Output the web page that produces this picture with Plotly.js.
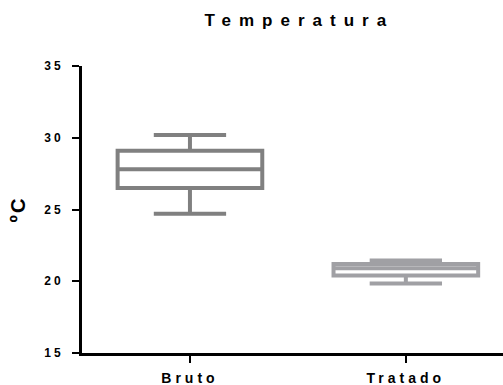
<!DOCTYPE html>
<html>
<head>
<meta charset="utf-8">
<script src="https://cdn.plot.ly/plotly-3.0.1.min.js"></script>
<style>
html,body{margin:0;padding:0;background:#fff;}
#chart{width:503px;height:385px;}
.xtick text{letter-spacing:4px;}
.ytick text{letter-spacing:3px;}
.gtitle{letter-spacing:8px;}
.ytitle{letter-spacing:2px;}
.xtick text,.ytick text,.gtitle,.ytitle{font-weight:700 !important;}
</style>
</head>
<body>
<div id="chart"></div>
<script>
const categories = ['Bruto', 'Tratado'];
const lowerWhisker = [24.7, 19.85];
const q1Values = [26.5, 20.4];
const medianValues = [27.8, 20.9];
const q3Values = [29.1, 21.2];
const upperWhisker = [30.2, 21.45];
const boxColors = ['#808080', '#a0a0a4'];
const yTicks = [15, 20, 25, 30, 35];

const font = {family: 'Liberation Sans, Arial, sans-serif', color: '#000', weight: 'bold'};

const traces = categories.map((c, i) => ({
  type: 'box',
  x: [c],
  q1: [q1Values[i]],
  median: [medianValues[i]],
  q3: [q3Values[i]],
  lowerfence: [lowerWhisker[i]],
  upperfence: [upperWhisker[i]],
  boxpoints: false,
  width: 0.67,
  whiskerwidth: 0.5,
  fillcolor: '#ffffff',
  line: {color: boxColors[i], width: 4},
  showlegend: false,
  hoverinfo: 'skip'
}));

const layout = {
  width: 503,
  height: 385,
  margin: {l: 82, r: 0, t: 66, b: 32},
  paper_bgcolor: '#fff',
  plot_bgcolor: '#fff',
  boxmode: 'overlay',
  title: {
    text: 'Temperatura',
    font: Object.assign({}, font, {size: 17}),
    x: 0.595, xanchor: 'center', y: 0.948, yanchor: 'middle'
  },
  xaxis: {
    type: 'category',
    range: [-0.5, 1.45],
    showgrid: false, zeroline: false,
    showline: true, linecolor: '#000', linewidth: 3,
    ticks: 'outside', ticklen: 7, tickwidth: 2, tickcolor: '#000',
    ticklabelstandoff: 3,
    tickfont: Object.assign({}, font, {size: 14}),
    fixedrange: true
  },
  yaxis: {
    range: [15, 35],
    tickvals: yTicks,
    ticktext: yTicks.map(String),
    showgrid: false, zeroline: false,
    showline: true, linecolor: '#000', linewidth: 3,
    ticks: 'outside', ticklen: 7, tickwidth: 2, tickcolor: '#000',
    ticklabelstandoff: 6,
    tickfont: Object.assign({}, font, {size: 12}),
    title: {text: 'ºC', font: Object.assign({}, font, {size: 20}), standoff: 14},
    fixedrange: true
  }
};

Plotly.newPlot('chart', traces, layout, {displayModeBar: false, staticPlot: true});
</script>
</body>
</html>
